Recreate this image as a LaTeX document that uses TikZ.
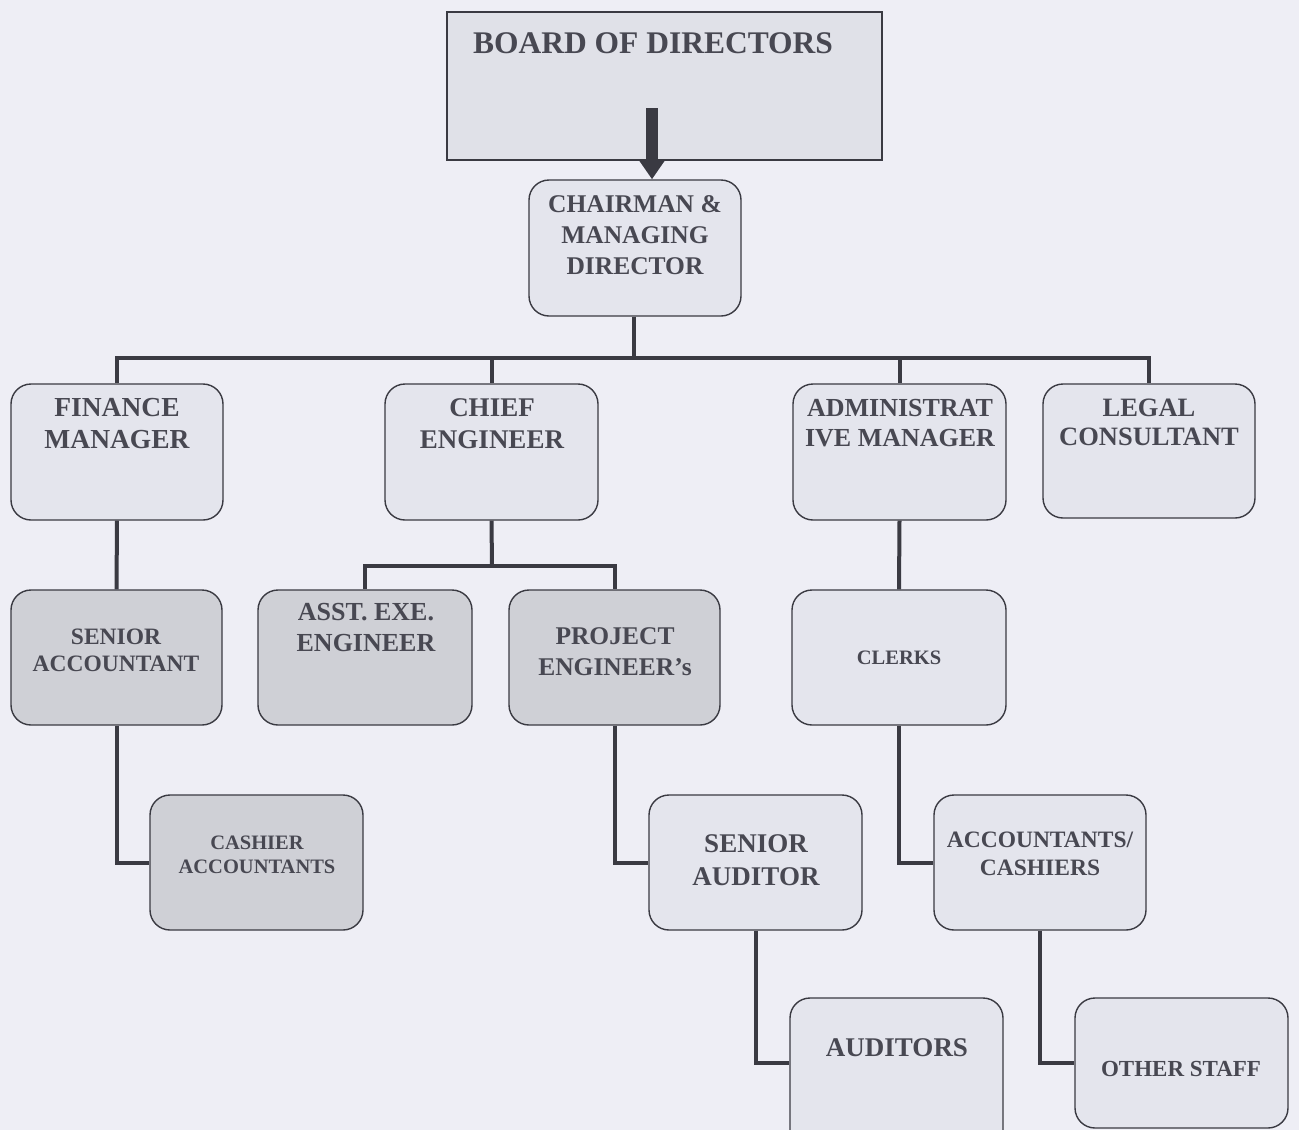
\documentclass[tikz,border=0pt]{standalone}
\usepackage{fontspec}
\setmainfont{Liberation Serif}
\usetikzlibrary{arrows.meta}
\definecolor{bg}{RGB}{238,238,245}
\definecolor{lightbox}{RGB}{228,229,237}
\definecolor{darkbox}{RGB}{207,208,214}
\definecolor{boardfill}{RGB}{224,225,232}
\definecolor{ink}{RGB}{72,72,82}
\definecolor{wire}{RGB}{58,58,66}
\tikzset{
  orgbox/.style={draw=wire, line width=1.4pt, rounded corners=20pt, fill=lightbox, inner sep=0pt},
  darkorg/.style={orgbox, fill=darkbox},
  lbl/.style={text=ink, align=center, font=\bfseries},
  wirestyle/.style={draw=wire, line width=4pt, line join=miter},
  bigarrow/.style={draw=wire, line width=12pt, -{Triangle[width=26pt,length=20pt]}}
}
\begin{document}
\begin{tikzpicture}[x=1pt,y=-1pt]
\clip (0,0) rectangle (1299,1130);
\fill[bg] (0,0) rectangle (1299,1130);

% boxes
\node[draw=wire, line width=1.4pt, fill=boardfill, minimum width=435pt, minimum height=148pt, inner sep=0pt] (board) at (664.5,86) {};
\node[orgbox, minimum width=212pt, minimum height=136pt] (cmd) at (635,248) {};
\node[orgbox, minimum width=212pt, minimum height=136pt] (fm) at (117,452) {};
\node[orgbox, minimum width=213pt, minimum height=136pt] (ce) at (491.5,452) {};
\node[orgbox, minimum width=213pt, minimum height=136pt] (am) at (899.5,452) {};
\node[orgbox, minimum width=212pt, minimum height=134pt] (lc) at (1149,451) {};
\node[darkorg, minimum width=211pt, minimum height=135pt] (sa) at (116.5,657.5) {};
\node[darkorg, minimum width=214pt, minimum height=135pt] (ae) at (365,657.5) {};
\node[darkorg, minimum width=211pt, minimum height=135pt] (pe) at (614.5,657.5) {};
\node[orgbox, minimum width=214pt, minimum height=135pt] (cl) at (899,657.5) {};
\node[darkorg, minimum width=213pt, minimum height=135pt] (ca) at (256.5,862.5) {};
\node[orgbox, minimum width=213pt, minimum height=135pt] (sau) at (755.5,862.5) {};
\node[orgbox, minimum width=212pt, minimum height=135pt] (ac) at (1040,862.5) {};
\node[orgbox, minimum width=213pt, minimum height=160pt] (au) at (896.5,1078) {};
\node[orgbox, minimum width=213pt, minimum height=130pt] (os) at (1181.5,1063) {};

% labels
\node[lbl, font=\bfseries\fontsize{31.5}{36}\selectfont] (tboard) at (653,43) {BOARD OF DIRECTORS};
\node[lbl, font=\bfseries\fontsize{25.5}{31}\selectfont] (tcmd) at (635,235) {CHAIRMAN \&\\MANAGING\\DIRECTOR};
\node[lbl, font=\bfseries\fontsize{27.5}{32}\selectfont] (tfm) at (117,424) {FINANCE\\MANAGER};
\node[lbl, font=\bfseries\fontsize{27}{32}\selectfont] (tce) at (492,424) {CHIEF\\ENGINEER};
\node[lbl, font=\bfseries\fontsize{26}{30}\selectfont] (tam) at (900,423) {ADMINISTRAT\\IVE MANAGER};
\node[lbl, font=\bfseries\fontsize{26.5}{29}\selectfont] (tlc) at (1149,422) {LEGAL\\CONSULTANT};
\node[lbl, font=\bfseries\fontsize{23.5}{27}\selectfont] (tsa) at (116,650) {SENIOR\\ACCOUNTANT};
\node[lbl, font=\bfseries\fontsize{26}{31}\selectfont] (tae) at (366,628) {ASST. EXE.\\ENGINEER};
\node[lbl, font=\bfseries\fontsize{25.5}{31}\selectfont] (tpe) at (615,652) {PROJECT\\ENGINEER's};
\node[lbl, font=\bfseries\fontsize{20.5}{24}\selectfont] (tcl) at (899,658) {CLERKS};
\node[lbl, font=\bfseries\fontsize{20.5}{24}\selectfont] (tca) at (257,855) {CASHIER\\ACCOUNTANTS};
\node[lbl, font=\bfseries\fontsize{27}{33}\selectfont] (tsau) at (756,860) {SENIOR\\AUDITOR};
\node[lbl, font=\bfseries\fontsize{23.5}{28}\selectfont] (tac) at (1040,854) {ACCOUNTANTS/\\CASHIERS};
\node[lbl, font=\bfseries\fontsize{27}{32}\selectfont] (tau) at (897,1048) {AUDITORS};
\node[lbl, font=\bfseries\fontsize{23}{26}\selectfont] (tos) at (1181,1069) {OTHER STAFF};

% arrow board -> chairman
\coordinate (arstart) at (652,108);
\draw[bigarrow] (arstart) -- (arstart |- cmd.north);

% connectors
\coordinate (bus) at (634,358);
\draw[wirestyle] (cmd.south -| bus) -- (bus);
\draw[wirestyle] (fm.north) -- (fm.north |- bus) -- (lc.north |- bus) -- (lc.north);
\draw[wirestyle] (ce.north) -- (ce.north |- bus);
\draw[wirestyle] (am.north) -- (am.north |- bus);

\draw[wirestyle] (fm.south) -- (sa.north);
\draw[wirestyle] (sa.south) |- (ca.west);

\coordinate (cebus) at (492,566);
\draw[wirestyle] (ce.south) -- (cebus);
\draw[wirestyle] (ae.north) -- (ae.north |- cebus) -- (pe.north |- cebus) -- (pe.north);

\draw[wirestyle] (pe.south) |- (sau.west);
\draw[wirestyle] (sau.south) |- (au.west |- os.west);

\draw[wirestyle] (am.south) -- (cl.north);
\draw[wirestyle] (cl.south) |- (ac.west);
\draw[wirestyle] (ac.south) |- (os.west);
\end{tikzpicture}
\end{document}
